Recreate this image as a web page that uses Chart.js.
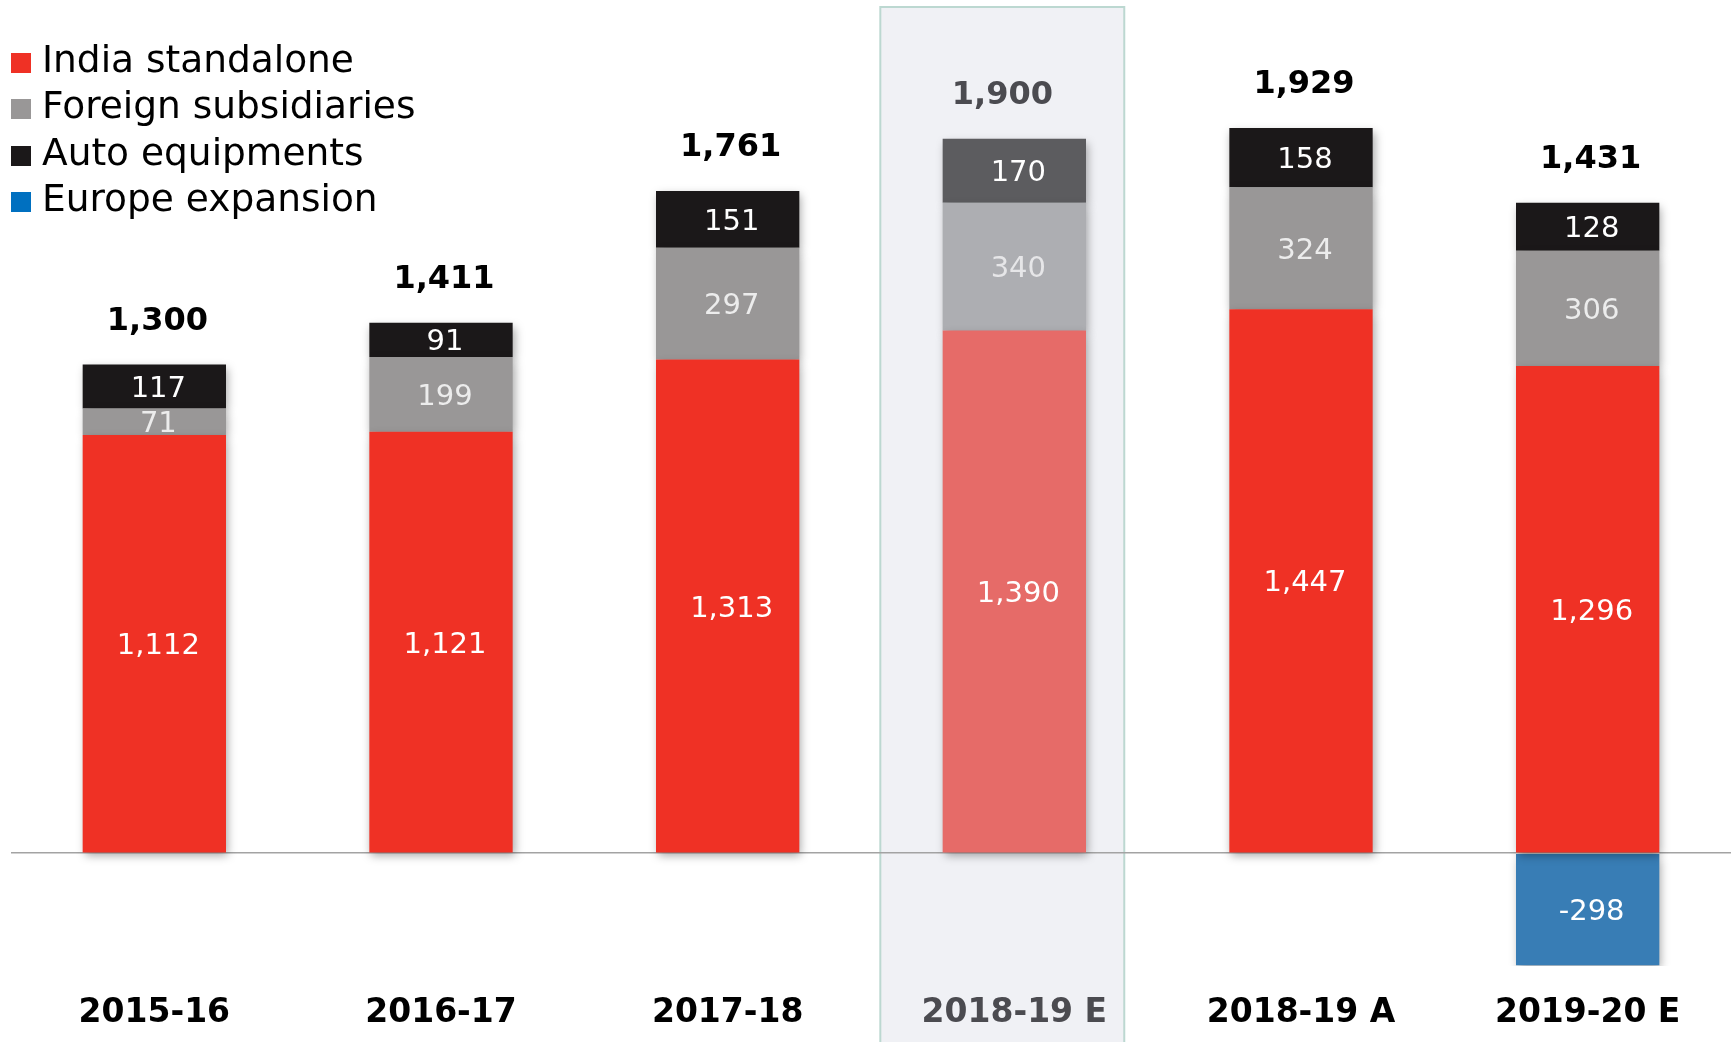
<!DOCTYPE html>
<html>
<head>
<meta charset="utf-8">
<script src="https://cdn.jsdelivr.net/npm/chart.js@4.4.1/dist/chart.umd.min.js"></script>
<style>
  html, body { margin:0; padding:0; background:#fff; }
  #wrap { position:relative; width:1736px; height:1042px; }
  #legend { position:absolute; left:11px; top:36px; font-family:"DejaVu Sans", sans-serif; font-size:37.5px; color:#000; }
  #legend div { height:46.3px; line-height:46.3px; white-space:nowrap; }
  #legend span { display:inline-block; width:20px; height:20px; margin-right:11px; vertical-align:-1px; }
</style>
</head>
<body>
<div id="wrap">
  <canvas id="chart" width="1736" height="1042"></canvas>
  <div id="legend"></div>
</div>
<script>
const YEARS = ["2015-16", "2016-17", "2017-18", "2018-19 E", "2018-19 A", "2019-20 E"];
const INDIA = [1112, 1121, 1313, 1390, 1447, 1296];
const FOREIGN = [71, 199, 297, 340, 324, 306];
const AUTO = [117, 91, 151, 170, 158, 128];
const EUROPE = [null, null, null, null, null, -298];
const TOTALS = [1300, 1411, 1761, 1900, 1929, 1431];
const HIGHLIGHT = 3; // 2018-19 E estimate column

const COLORS = {
  red: "#ef3125", redSoft: "#e66b68",
  gray: "#999797", graySoft: "#adaeb2",
  black: "#1b1819", blackSoft: "#5c5c5f",
  blue: "#387db5", legendBlue: "#0070c0"
};

const pick = (normal, soft) => YEARS.map((_, i) => i === HIGHLIGHT ? soft : normal);

const SERIES = [
  { label:"India standalone", data:INDIA, bg:pick(COLORS.red, COLORS.redSoft), text:"#ffffff", legend:COLORS.red },
  { label:"Foreign subsidiaries", data:FOREIGN, bg:pick(COLORS.gray, COLORS.graySoft), text:"#ececec", legend:COLORS.gray },
  { label:"Auto equipments", data:AUTO, bg:pick(COLORS.black, COLORS.blackSoft), text:"#ffffff", legend:COLORS.black },
  { label:"Europe expansion", data:EUROPE, bg:pick(COLORS.blue, COLORS.blue), text:"#ffffff", legend:COLORS.legendBlue }
];

// html legend, top-left
document.getElementById("legend").innerHTML = SERIES
  .map(s => `<div><span style="background:${s.legend}"></span>${s.label}</div>`).join("");

const fmt = v => v.toLocaleString("en-US");

const highlightBox = {
  id: "highlightBox",
  beforeDraw(chart){
    const { ctx } = chart;
    const x = chart.scales.x;
    const step = x.getPixelForValue(1) - x.getPixelForValue(0);
    const cx = x.getPixelForValue(HIGHLIGHT) - step * 0.042;
    const w = step * 0.851;
    ctx.save();
    ctx.fillStyle = "#f0f1f5";
    ctx.fillRect(cx - w/2, 7, w, chart.height);
    ctx.strokeStyle = "#bcd8d1";
    ctx.lineWidth = 2;
    ctx.strokeRect(cx - w/2, 7, w, chart.height + 10);
    ctx.restore();
  }
};

const barLabels = {
  id: "barLabels",
  beforeDatasetsDraw(chart){
    const { ctx } = chart;
    ctx.save();
    ctx.shadowColor = "rgba(0,0,0,0.35)";
    ctx.shadowBlur = 9;
    ctx.shadowOffsetX = 2;
    ctx.shadowOffsetY = 4;
  },
  afterDatasetsDraw(chart){
    const { ctx } = chart;
    ctx.restore();
    ctx.save();
    ctx.textAlign = "center";
    ctx.textBaseline = "middle";
    // segment values
    ctx.font = "29px 'DejaVu Sans'";
    SERIES.forEach((s, di) => {
      chart.getDatasetMeta(di).data.forEach((bar, i) => {
        const v = s.data[i];
        if (v == null) return;
        ctx.fillStyle = (i === HIGHLIGHT && di === 1) ? "#e6e6e8" : s.text;
        ctx.fillText(fmt(v), bar.x + 4, (bar.y + bar.base) / 2 + 3);
      });
    });
    // totals above the stack
    ctx.font = "bold 32px 'DejaVu Sans'";
    chart.getDatasetMeta(2).data.forEach((bar, i) => {
      ctx.fillStyle = i === HIGHLIGHT ? "#4b4b50" : "#000000";
      ctx.fillText(fmt(TOTALS[i]), bar.x + (i === HIGHLIGHT ? -12 : 3), bar.y - 43);
    });
    ctx.restore();
  }
};

new Chart(document.getElementById("chart"), {
  type: "bar",
  data: {
    labels: YEARS,
    datasets: SERIES.map(s => ({
      label: s.label,
      data: s.data,
      backgroundColor: s.bg,
      borderWidth: 0,
      barPercentage: 0.5,
      categoryPercentage: 1.0
    }))
  },
  options: {
    responsive: false,
    animation: false,
    layout: { padding: { top: 26, left: 11, right: 5, bottom: 13 } },
    plugins: { legend: { display:false }, tooltip: { enabled:false } },
    scales: {
      x: {
        stacked: true,
        grid: { display:false },
        border: { display:false },
        afterFit: s => { s.height = 63; },
        ticks: {
          padding: 20,
          maxRotation: 0,
          font: { family:"DejaVu Sans", size:33, weight:"bold" },
          color: c => c.index === HIGHLIGHT ? "#4b4b50" : "#000000"
        }
      },
      y: {
        stacked: true,
        min: -300,
        max: 2200,
        ticks: { display:false },
        border: { display:false },
        grid: {
          drawTicks: false,
          lineWidth: 1.5,
          color: c => c.tick && c.tick.value === 0 ? "#a3a3a3" : "rgba(0,0,0,0)"
        }
      }
    }
  },
  plugins: [highlightBox, barLabels]
});
</script>
</body>
</html>
